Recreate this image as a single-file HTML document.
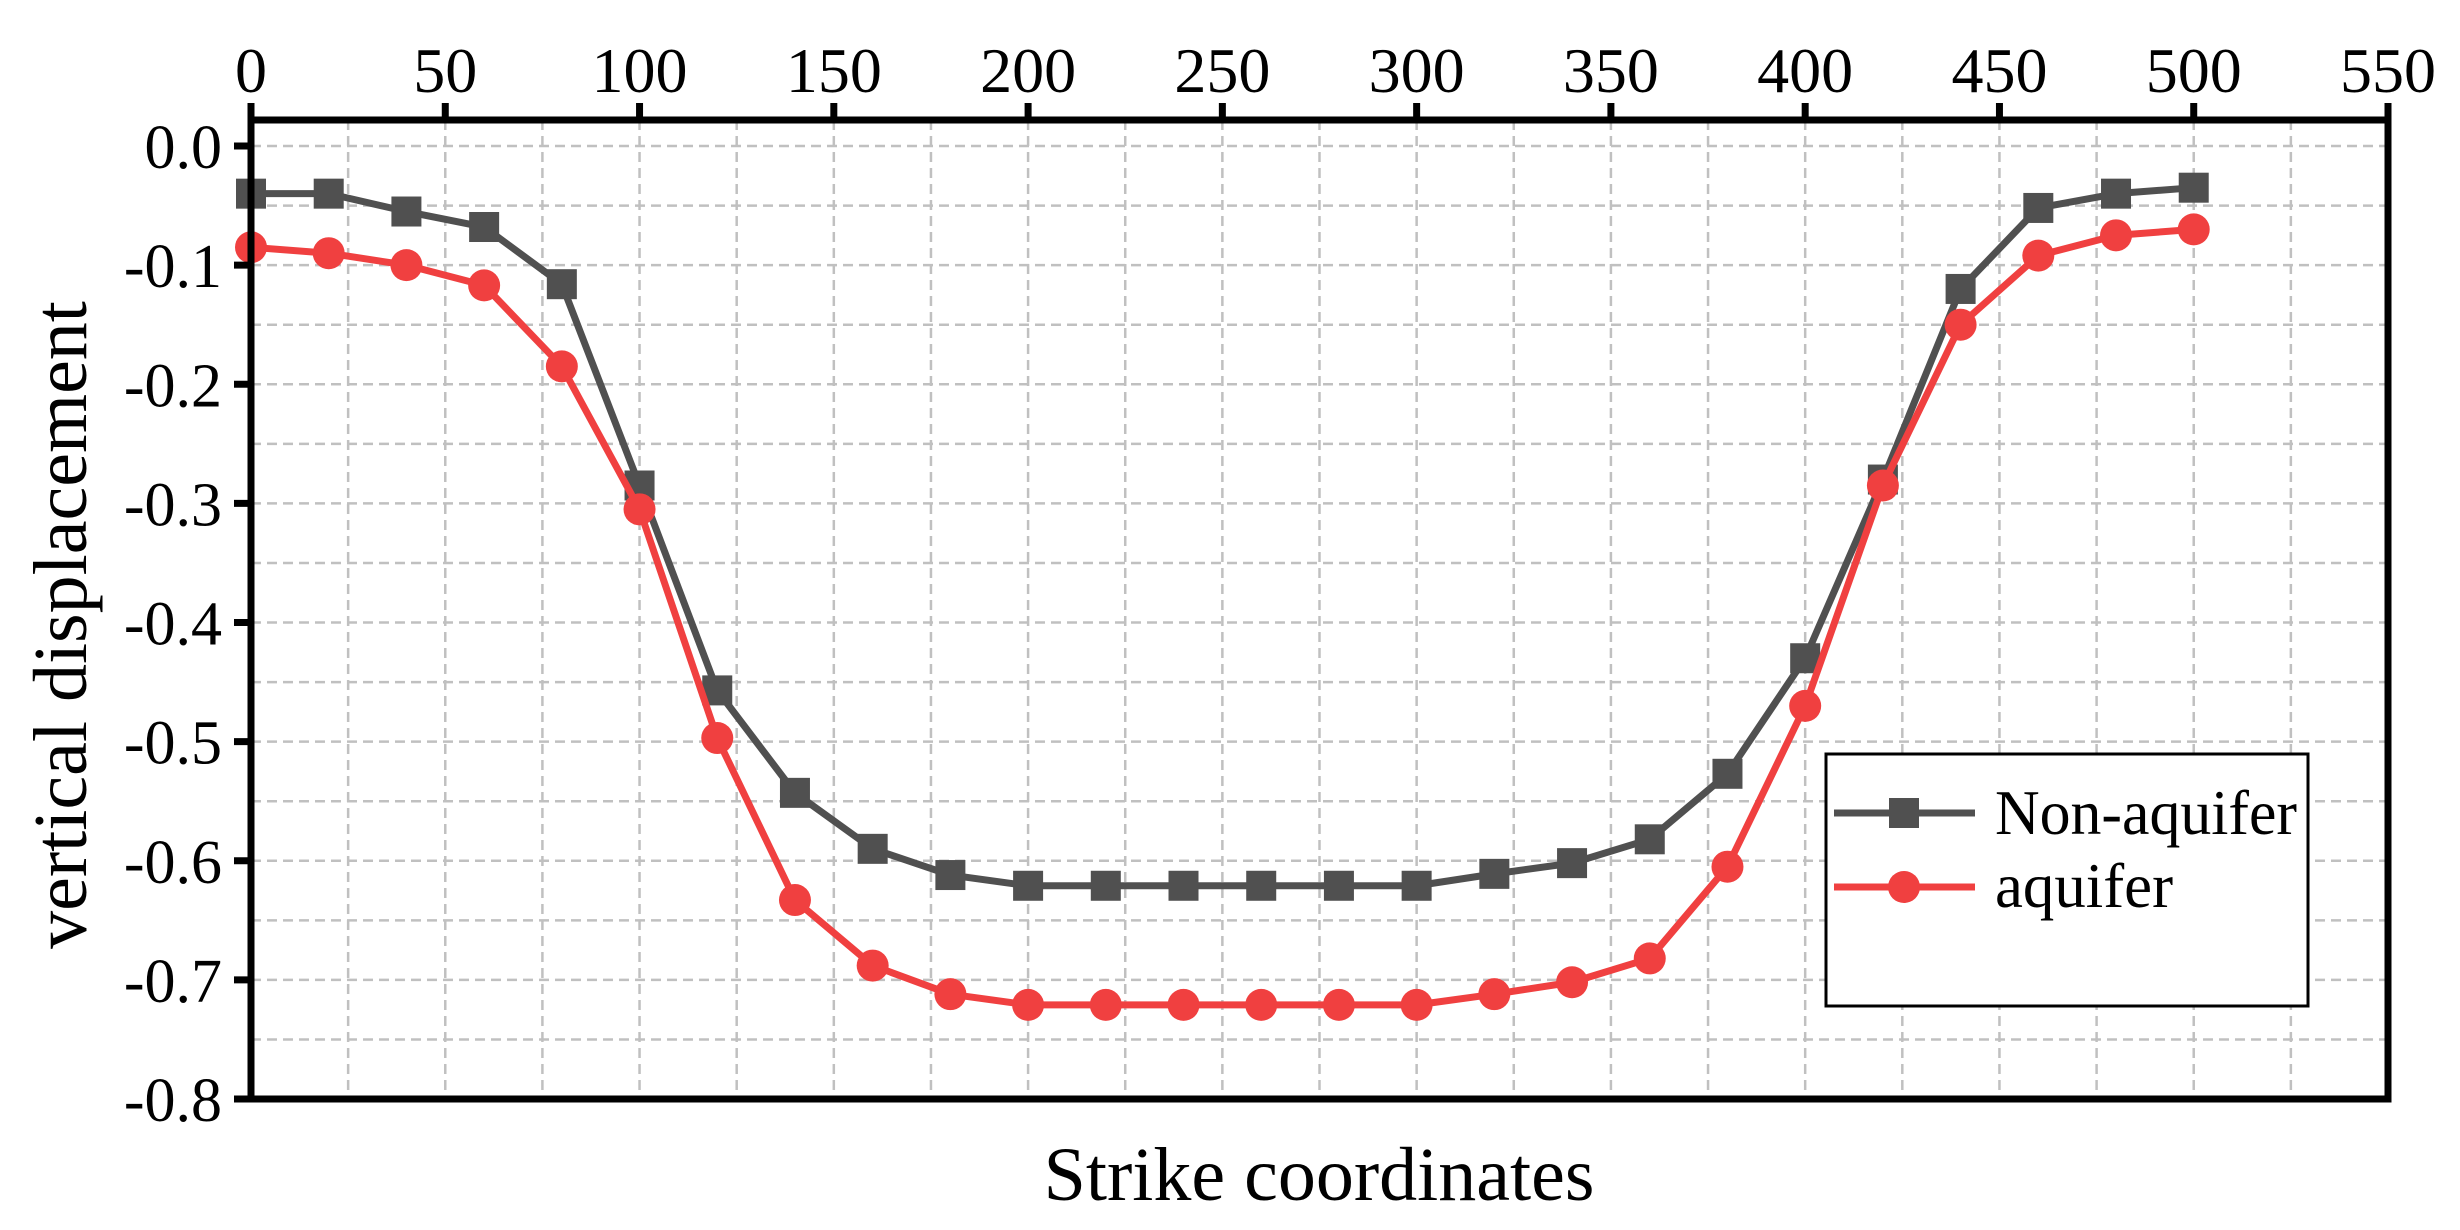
<!DOCTYPE html>
<html><head><meta charset="utf-8"><style>
html,body{margin:0;padding:0;background:#fff;}
svg{display:block;font-family:"Liberation Serif",serif;}
</style></head><body>
<svg id="chart" width="2460" height="1230" viewBox="0 0 2460 1230" xmlns="http://www.w3.org/2000/svg">
<g id="grid"></g>
<g id="series"></g>
<g id="axes"></g>
<text x="1319" y="1200" font-size="76" text-anchor="middle">Strike coordinates</text>
<text transform="translate(86,625) rotate(-90)" font-size="76" text-anchor="middle">vertical displacement</text>
<g>
<rect x="1826" y="754" width="482" height="252" fill="#fff" stroke="#000" stroke-width="3"/>
<g>
<line x1="1834" y1="813" x2="1975" y2="813" stroke="#505050" stroke-width="7"/>
<rect x="1889" y="798" width="30" height="30" fill="#505050"/>
<text x="1995" y="834" font-size="64" textLength="302" lengthAdjust="spacingAndGlyphs">Non-aquifer</text></g>
<g>
<line x1="1834" y1="887" x2="1975" y2="887" stroke="#f04040" stroke-width="7"/>
<circle cx="1904" cy="887" r="16" fill="#f04040"/>
<text x="1995" y="907" font-size="64" textLength="178" lengthAdjust="spacingAndGlyphs">aquifer</text></g>
</g>
</svg>
<script>
const xValues=[0,20,40,60,80,100,120,140,160,180,200,220,240,260,280,300,320,340,360,380,400,420,440,460,480,500];
const nonAquifer=[-0.04,-0.04,-0.055,-0.068,-0.116,-0.285,-0.457,-0.543,-0.59,-0.612,-0.621,-0.621,-0.621,-0.621,-0.621,-0.621,-0.611,-0.602,-0.582,-0.527,-0.43,-0.28,-0.12,-0.052,-0.04,-0.035];
const aquifer=[-0.085,-0.09,-0.1,-0.117,-0.185,-0.305,-0.497,-0.633,-0.688,-0.712,-0.721,-0.721,-0.721,-0.721,-0.721,-0.721,-0.712,-0.702,-0.682,-0.605,-0.47,-0.285,-0.15,-0.092,-0.075,-0.07];
const xTicks=[0,50,100,150,200,250,300,350,400,450,500,550];
const yTicks=[0.0,-0.1,-0.2,-0.3,-0.4,-0.5,-0.6,-0.7,-0.8];
const NS="http://www.w3.org/2000/svg";
const L=251,R=2388,T=120,B=1099;
const Y0=146, YPER=(B-Y0)/0.8;
function xs(v){return L+(v-0)*(R-L)/550;}
function ys(v){return Y0+(-v)*YPER;}
function mk(tag,attrs,parent){const e=document.createElementNS(NS,tag);for(const k in attrs)e.setAttribute(k,attrs[k]);parent.appendChild(e);return e;}
const grid=document.getElementById('grid'),axes=document.getElementById('axes'),ser=document.getElementById('series');
for(let v=25;v<550;v+=25){const l=mk('line',{x1:xs(v),x2:xs(v),y1:T,y2:B,stroke:'#c0c0c0','stroke-width':2.5,'stroke-dasharray':'10 6'},grid);

}
for(let i=0;i<16;i++){const v=-0.05*i;const l=mk('line',{x1:L,x2:R,y1:ys(v),y2:ys(v),stroke:'#c0c0c0','stroke-width':2.5,'stroke-dasharray':'10 6'},grid);

}
function drawSeries(vals,color,shape,name){
const pts=xValues.map((x,i)=>xs(x)+','+ys(vals[i])).join(' ');
const pl=mk('polyline',{points:pts,fill:'none',stroke:color,'stroke-width':7,'stroke-linejoin':'round'},ser);


xValues.forEach((x,i)=>{let m;
if(shape==='square'){m=mk('rect',{x:xs(x)-15,y:ys(vals[i])-15,width:30,height:30,fill:color},ser);}
else{m=mk('circle',{cx:xs(x),cy:ys(vals[i]),r:16,fill:color},ser);}

});}
drawSeries(nonAquifer,'#505050','square','non-aquifer');
drawSeries(aquifer,'#f04040','circle','aquifer');
const frame=mk('rect',{x:L,y:T,width:R-L,height:B-T,fill:'none',stroke:'#000','stroke-width':7},axes);


xTicks.forEach(v=>{const t=mk('line',{x1:xs(v),x2:xs(v),y1:T,y2:T-17,stroke:'#000','stroke-width':7},axes);


const tx=mk('text',{x:xs(v),y:92,'font-size':64,'text-anchor':'middle'},axes);tx.textContent=v;

});
yTicks.forEach(v=>{const t=mk('line',{x1:L,x2:L-17,y1:ys(v),y2:ys(v),stroke:'#000','stroke-width':7},axes);


const tx=mk('text',{x:222,y:ys(v)+22,'font-size':62,'text-anchor':'end'},axes);tx.textContent=v.toFixed(1);

});
</script>
</body></html>
